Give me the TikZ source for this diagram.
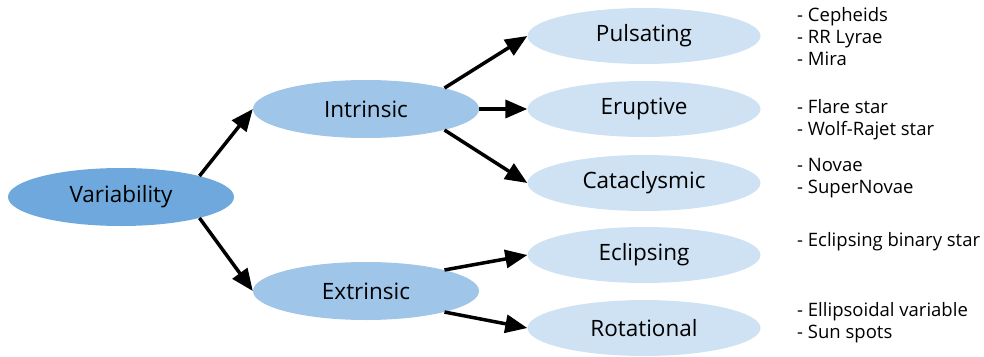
\documentclass[tikz,border=0pt]{standalone}
\usepackage{fontspec}
\setmainfont{Open Sans}
\usetikzlibrary{shapes.geometric,arrows.meta}
\definecolor{rootblue}{HTML}{6FA8DC}
\definecolor{midblue}{HTML}{9FC5E8}
\definecolor{leafblue}{HTML}{CFE2F3}
\tikzset{
  blob/.style={ellipse, draw=none, inner sep=0pt, minimum width=226pt, minimum height=58pt, font=\fontsize{22.5}{26}\selectfont},
  leaf/.style={blob, fill=leafblue, minimum width=233pt, minimum height=56pt},
  notes/.style={anchor=west, align=left, inner sep=0pt, font=\fontsize{18.5}{22}\selectfont},
  link/.style={line width=3.5pt, -{Triangle[length=22pt,width=18pt]}}
}
\begin{document}
\begin{tikzpicture}[x=1pt,y=-1pt]
\useasboundingbox (0,0) rectangle (984,356);
\node[blob, fill=rootblue] (var) at (121,197) {Variability};
\node[blob, fill=midblue] (int) at (366,109) {Intrinsic};
\node[blob, fill=midblue] (ext) at (366,291) {Extrinsic};
\node[leaf] (pul) at (644,36) {Pulsating};
\node[leaf] (eru) at (644,109) {Eruptive};
\node[leaf] (cat) at (644,183) {Cataclysmic};
\node[leaf] (ecl) at (644,255) {Eclipsing};
\node[leaf] (rot) at (644,328) {Rotational};

\draw[link] (var.15) -- (int.west);
\draw[link] (var.-15) -- (ext.west);
\draw[link] (int.15) -- (pul.west);
\draw[link] (int.east) -- (eru.west);
\draw[link] (int.-15) -- (cat.west);
\draw[link] (ext.15) -- (ecl.west);
\draw[link] (ext.-15) -- (rot.west);

\node[notes] (pulnotes) at (797,37) {- Cepheids\\- RR Lyrae\\- Mira};
\node[notes] (erunotes) at (797,120) {- Flare star\\- Wolf-Rajet star};
\node[notes] (catnotes) at (797,178) {- Novae\\- SuperNovae};
\node[notes] (eclnotes) at (797,242) {- Eclipsing binary star};
\node[notes] (rotnotes) at (797,323) {- Ellipsoidal variable\\- Sun spots};
\end{tikzpicture}
\end{document}
